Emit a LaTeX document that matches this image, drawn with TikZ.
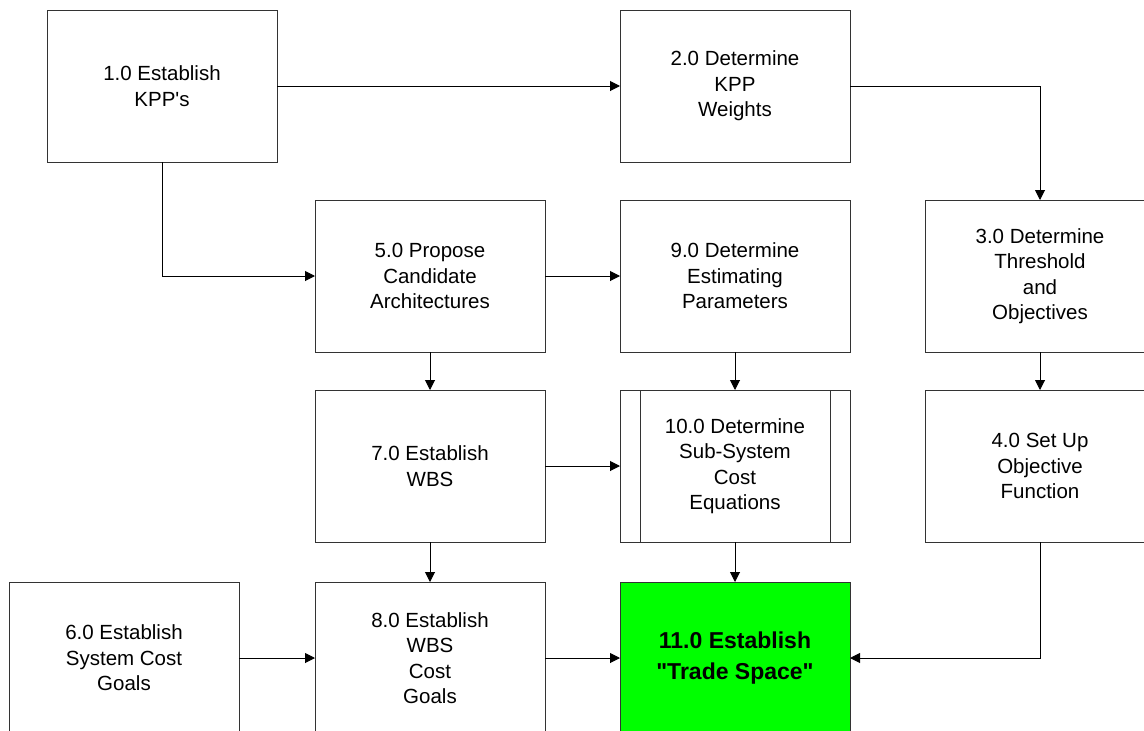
\documentclass[tikz,border=0pt]{standalone}
\usepackage{fontspec}
\setmainfont{Liberation Sans}[Ligatures=TeXOff]
\usetikzlibrary{arrows.meta}
\begin{document}
\begin{tikzpicture}[x=1pt,y=-1pt,
  proc/.style={draw=black!80,line width=1pt,fill=white,minimum width=230pt,minimum height=152pt,inner sep=0pt,outer sep=0pt,align=center,font=\fontsize{20.5}{25.5}\selectfont},
  goal/.style={proc,fill={rgb,255:red,0;green,255;blue,0},font=\fontsize{23}{31}\selectfont\bfseries},
  conn/.style={line width=1pt,draw=black,-{Triangle[length=10pt,width=10pt]}}]
\useasboundingbox (0,0) rectangle (1144,731);
\clip (0,0) rectangle (1144,731);
\node[proc] (n1) at (162,86) {1.0 Establish\\KPP's};
\node[proc] (n2) at (735,86) {2.0 Determine\\KPP\\Weights};
\node[proc] (n3) at (1040,276) {3.0 Determine\\Threshold\\and\\Objectives};
\node[proc] (n5) at (430,276) {5.0 Propose\\Candidate\\Architectures};
\node[proc] (n9) at (735,276) {9.0 Determine\\Estimating\\Parameters};
\node[proc] (n7) at (430,466) {7.0 Establish\\WBS};
\node[proc] (n10) at (735,466) {10.0 Determine\\Sub-System\\Cost\\Equations};
\node[proc] (n4) at (1040,466) {4.0 Set Up\\Objective\\Function};
\node[proc] (n6) at (124,658) {6.0 Establish\\System Cost\\Goals};
\node[proc] (n8) at (430,658) {8.0 Establish\\WBS\\Cost\\Goals};
\node[goal] (n11) at (735,658) {11.0 Establish\\"Trade Space"};
\draw[draw=black!80,line width=1pt] ([xshift=20pt]n10.north west) -- ([xshift=20pt]n10.south west);
\draw[draw=black!80,line width=1pt] ([xshift=-20pt]n10.north east) -- ([xshift=-20pt]n10.south east);
\draw[conn] (n1.east) -- (n2.west);
\draw[conn] (n2.east) -| (n3.north);
\draw[conn] (n1.south) |- (n5.west);
\draw[conn] (n5.east) -- (n9.west);
\draw[conn] (n5.south) -- (n7.north);
\draw[conn] (n9.south) -- (n10.north);
\draw[conn] (n7.east) -- (n10.west);
\draw[conn] (n3.south) -- (n4.north);
\draw[conn] (n7.south) -- (n8.north);
\draw[conn] (n10.south) -- (n11.north);
\draw[conn] (n6.east) -- (n8.west);
\draw[conn] (n8.east) -- (n11.west);
\draw[conn] (n4.south) |- (n11.east);
\end{tikzpicture}
\end{document}
